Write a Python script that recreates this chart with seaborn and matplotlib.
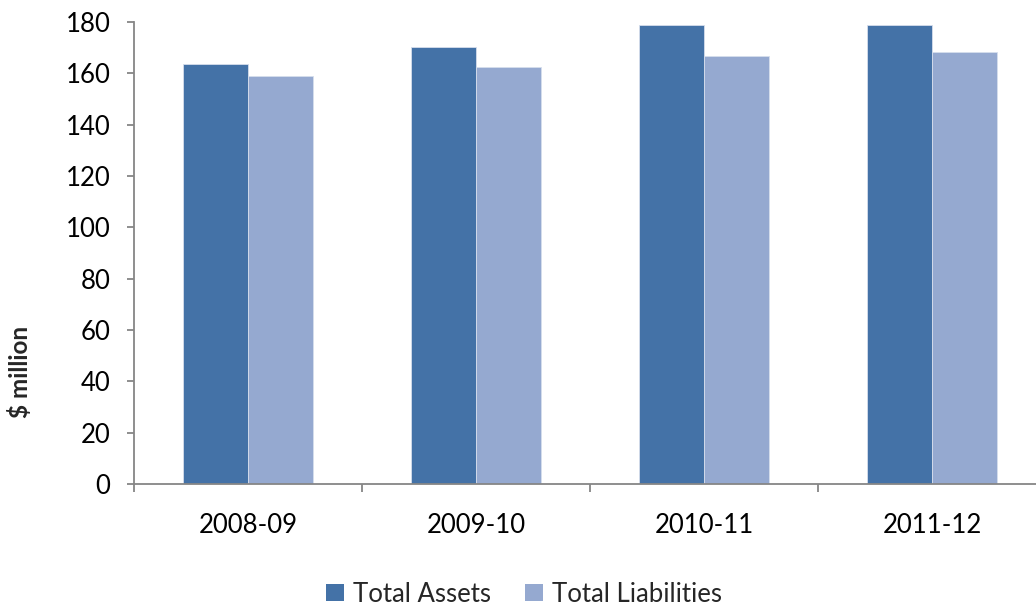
import matplotlib
matplotlib.use("Agg")
import matplotlib.pyplot as plt
import seaborn as sns
import pandas as pd
from matplotlib.patches import Patch

# Financial position by year ($ million)
years = ["2008-09", "2009-10", "2010-11", "2011-12"]
total_assets = [163.5, 170.1, 178.8, 178.8]
total_liabilities = [159.1, 162.4, 166.9, 168.5]
series_names = ["Total Assets", "Total Liabilities"]
series_colors = ["#4472A7", "#95A9D0"]
y_ticks = list(range(0, 181, 20))

df = pd.DataFrame({
    "Year": years * 2,
    "Value": total_assets + total_liabilities,
    "Series": [series_names[0]] * len(years) + [series_names[1]] * len(years),
})

sns.set_theme(style="white")
plt.rcParams["font.family"] = ["Lato", "DejaVu Sans"]

fig = plt.figure(figsize=(10.36, 6.08), dpi=100)
ax = fig.add_axes([134 / 1036, 124 / 608, 912 / 1036, 462 / 608])

sns.barplot(
    data=df, x="Year", y="Value", hue="Series", order=years,
    hue_order=series_names, palette=series_colors, width=0.57,
    saturation=1, edgecolor="#D6DEEC", linewidth=0.6, ax=ax, legend=False,
)

axis_grey = "#868686"
ax.set_ylim(0, 180)
ax.set_xlim(-0.5, len(years) - 0.5)
ax.set_yticks(y_ticks)
ax.set_ylabel("")
ax.set_xlabel("")

for side in ["top", "right"]:
    ax.spines[side].set_visible(False)
for side in ["left", "bottom"]:
    ax.spines[side].set_color(axis_grey)
    ax.spines[side].set_linewidth(1.3)

ax.tick_params(axis="y", which="major", direction="out", length=5, width=1.3,
               color=axis_grey, labelsize=18.5, pad=12, left=True, labelcolor="black")
# Category boundaries carry the x tick marks; labels sit between them
ax.set_xticks([i - 0.5 for i in range(len(years) + 1)], minor=True)
ax.tick_params(axis="x", which="minor", direction="out", length=6, width=1.3,
               color=axis_grey, bottom=True)
ax.tick_params(axis="x", which="major", length=0, labelsize=18.5, pad=21,
               labelcolor="black")

fig.text(20 / 1036, 1 - 372 / 608, "$ million", rotation=90, ha="center",
         va="center", fontsize=17.5, fontweight="bold")

handles = [Patch(facecolor=c, edgecolor="none") for c in series_colors]
fig.legend(handles, series_names, loc="center", bbox_to_anchor=(524 / 1036, 1 - 594 / 608),
           ncol=2, frameon=False, fontsize=18.5, handlelength=0.68, handleheight=0.68,
           handletextpad=0.35, columnspacing=1.35, borderaxespad=0)

fig.savefig("out.png", dpi=100)
